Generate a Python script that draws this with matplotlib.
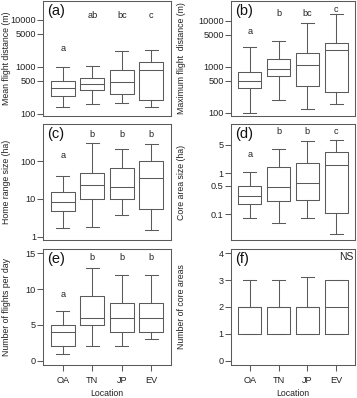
import matplotlib
matplotlib.use("Agg")
import matplotlib.pyplot as plt
from matplotlib.ticker import FixedLocator, NullLocator, NullFormatter

plt.rcParams['font.family'] = ['Liberation Sans', 'DejaVu Sans']

locations = ["OA", "TN", "JP", "EV"]

# (a) Mean flight distance (m): whislo, q1, med, q3, whishi per location
a_lo  = [141, 158, 166, 143]
a_q1  = [245, 324, 263, 199]
a_med = [352, 428, 480, 834]
a_q3  = [496, 575, 834, 1259]
a_hi  = [967, 1015, 2117, 2223]
a_letters = ["a", "ab", "bc", "c"]
a_letter_y = [2415, 12200, 12200, 12200]

# (b) Maximum flight distance (m)
b_lo  = [100, 190, 120, 154]
b_q1  = [340, 647, 387, 283]
b_med = [505, 897, 1077, 2344]
b_q3  = [788, 1500, 2019, 3250]
b_hi  = [2667, 3656, 8920, 13900]
b_letters = ["a", "b", "bc", "c"]
b_letter_y = [5960, 14600, 14600, 17800]

# (c) Home range size (ha)
c_lo  = [1.66, 1.8, 3.74, 1.5]
c_q1  = [4.87, 9.7, 9.7, 5.4]
c_med = [8.25, 22.7, 21, 36]
c_q3  = [15.5, 49, 66.7, 100]
c_hi  = [41, 293, 203, 276]
c_letters = ["a", "b", "b", "b"]
c_letter_y = [144, 516, 516, 516]

# (d) Core area size (ha)
d_lo  = [0.08, 0.06, 0.08, 0.034]
d_q1  = [0.175, 0.215, 0.228, 0.11]
d_med = [0.285, 0.47, 0.59, 1.6]
d_q3  = [0.5, 1.45, 1.75, 3.4]
d_hi  = [1.1, 4.0, 6.0, 6.5]
d_letters = ["a", "b", "b", "c"]
d_letter_y = [2.96, 10.3, 10.3, 10.3]

# (e) Number of flights per day
e_lo  = [1, 2, 2, 3]
e_q1  = [2, 5, 4, 4]
e_med = [4, 6, 6, 6]
e_q3  = [5, 9, 8, 8]
e_hi  = [7, 13, 12, 12]
e_letters = ["a", "b", "b", "b"]
e_letter_y = [9.3, 14.4, 14.4, 14.4]

# (f) Number of core areas
f_lo  = [1, 1, 1, 1]
f_q1  = [1, 1, 1, 1]
f_med = [2, 2, 2, 2]
f_q3  = [2, 2, 2, 3]
f_hi  = [3, 3, 3.1, 3]

panels = [
    dict(tag="(a)", ylabel="Mean flight distance (m)", data=(a_lo, a_q1, a_med, a_q3, a_hi),
         letters=a_letters, ly=a_letter_y, log=True, ylim=(90, 25000),
         ticks=[100, 500, 1000, 5000, 10000], ticklabels=["100", "500", "1000", "5000", "10000"]),
    dict(tag="(b)", ylabel="Maximum flight  distance (m)", data=(b_lo, b_q1, b_med, b_q3, b_hi),
         letters=b_letters, ly=b_letter_y, log=True, ylim=(86, 26700),
         ticks=[100, 500, 1000, 5000, 10000], ticklabels=["100", "500", "1000", "5000", "10000"]),
    dict(tag="(c)", ylabel="Home range size (ha)", data=(c_lo, c_q1, c_med, c_q3, c_hi),
         letters=c_letters, ly=c_letter_y, log=True, ylim=(0.82, 950),
         ticks=[1, 10, 100], ticklabels=["1", "10", "100"]),
    dict(tag="(d)", ylabel="Core area size (ha)", data=(d_lo, d_q1, d_med, d_q3, d_hi),
         letters=d_letters, ly=d_letter_y, log=True, ylim=(0.0236, 16),
         ticks=[0.1, 0.5, 1, 5], ticklabels=["0.1", "0.5", "1", "5"]),
    dict(tag="(e)", ylabel="Number of flights per day", data=(e_lo, e_q1, e_med, e_q3, e_hi),
         letters=e_letters, ly=e_letter_y, log=False, ylim=(-0.6, 15.6),
         ticks=[0, 5, 10, 15], ticklabels=["0", "5", "10", "15"]),
    dict(tag="(f)", ylabel="Number of core areas", data=(f_lo, f_q1, f_med, f_q3, f_hi),
         letters=None, ly=None, log=False, ylim=(-0.16, 4.16),
         ticks=[0, 1, 2, 3, 4], ticklabels=["0", "1", "2", "3", "4"]),
]

W, H = 357, 398
fig = plt.figure(figsize=(W / 100, H / 100), dpi=100)

cols = [(43.3, 127.4, 7.0), (231.0, 124.0, 182.0)]   # x0, width, ylabel center x
rows = [(1, 116), (124, 240), (249, 365)]            # top, bottom in px

line_col = "#5a5a5a"
text_col = "#222222"
fs = 6.6
fs_lab = 6.3

for i, p in enumerate(panels):
    r, c = divmod(i, 2)
    x0, w, labx = cols[c]
    top, bot = rows[r]
    ax = fig.add_axes([x0 / W, (H - bot) / H, w / W, (bot - top) / H])
    lo, q1, med, q3, hi = p["data"]
    stats = [dict(whislo=lo[k], q1=q1[k], med=med[k], q3=q3[k], whishi=hi[k], fliers=[])
             for k in range(len(locations))]
    lp = dict(color=line_col, linewidth=0.75)
    ax.bxp(stats, positions=[1, 2, 3, 4], widths=0.8, capwidths=0.45, showfliers=False,
           boxprops=lp, medianprops=lp, whiskerprops=dict(color=line_col, linewidth=0.75, linestyle="-"),
           capprops=lp, manage_ticks=False)
    if p["log"]:
        ax.set_yscale("log")
    ax.set_ylim(*p["ylim"])
    ax.set_xlim(0.34, 4.66)
    ax.yaxis.set_major_locator(FixedLocator(p["ticks"]))
    ax.set_yticklabels(p["ticklabels"])
    ax.yaxis.set_minor_locator(NullLocator())
    ax.yaxis.set_minor_formatter(NullFormatter())
    ax.tick_params(axis="y", length=4, width=0.75, color=line_col, labelsize=fs,
                   labelcolor=text_col, pad=1.2)
    if r == 2:
        ax.set_xticks([1, 2, 3, 4])
        ax.set_xticklabels(locations)
        ax.tick_params(axis="x", length=4, width=0.75, color=line_col, labelsize=fs,
                       labelcolor=text_col, pad=4)
        ax.set_xlabel("Location", fontsize=fs_lab, color=text_col, labelpad=2.5)
    else:
        ax.set_xticks([])
    for s in ax.spines.values():
        s.set_color(line_col)
        s.set_linewidth(0.75)
    ax.set_ylabel(p["ylabel"], fontsize=fs_lab, color=text_col, va="center")
    ax.yaxis.set_label_coords((labx - x0) / w, 0.5)
    ax.text(0.03, 0.975, p["tag"], transform=ax.transAxes, fontsize=10.5,
            ha="left", va="top", color="#111111")
    if p["letters"]:
        for k, (lt, yy) in enumerate(zip(p["letters"], p["ly"])):
            ax.text(k + 1, yy, lt, fontsize=fs, ha="center", va="center", color=text_col)
    else:
        ax.text(0.985, 0.975, "NS", transform=ax.transAxes, fontsize=7.5,
                ha="right", va="top", color=text_col)

fig.savefig("out.png", dpi=100)
